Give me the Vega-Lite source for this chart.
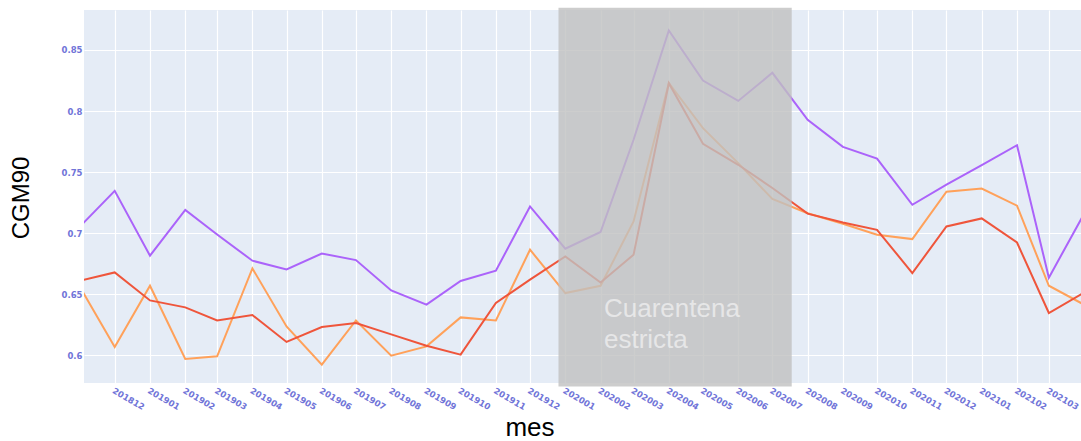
{
  "$schema": "https://vega.github.io/schema/vega-lite/v6.json",
  "autosize": {"type": "none"},
  "padding": {"left": 84, "top": 10, "right": 0, "bottom": 58},
  "width": 997,
  "height": 373,
  "background": "white",
  "config": {"view": {"stroke": null, "fill": "#E5ECF6"}},
  "datasets": {
    "series": [
      {"mes": "201811", "serie": "Serie 1", "valor": 0.706},
      {"mes": "201812", "serie": "Serie 1", "valor": 0.7347},
      {"mes": "201901", "serie": "Serie 1", "valor": 0.6816},
      {"mes": "201902", "serie": "Serie 1", "valor": 0.719},
      {"mes": "201903", "serie": "Serie 1", "valor": 0.699},
      {"mes": "201904", "serie": "Serie 1", "valor": 0.6775},
      {"mes": "201905", "serie": "Serie 1", "valor": 0.6704},
      {"mes": "201906", "serie": "Serie 1", "valor": 0.6834},
      {"mes": "201907", "serie": "Serie 1", "valor": 0.678},
      {"mes": "201908", "serie": "Serie 1", "valor": 0.6532},
      {"mes": "201909", "serie": "Serie 1", "valor": 0.6415},
      {"mes": "201910", "serie": "Serie 1", "valor": 0.6609},
      {"mes": "201911", "serie": "Serie 1", "valor": 0.6693},
      {"mes": "201912", "serie": "Serie 1", "valor": 0.7219},
      {"mes": "202001", "serie": "Serie 1", "valor": 0.6873},
      {"mes": "202002", "serie": "Serie 1", "valor": 0.701},
      {"mes": "202003", "serie": "Serie 1", "valor": 0.7765},
      {"mes": "202004", "serie": "Serie 1", "valor": 0.8659},
      {"mes": "202005", "serie": "Serie 1", "valor": 0.825},
      {"mes": "202006", "serie": "Serie 1", "valor": 0.8083},
      {"mes": "202007", "serie": "Serie 1", "valor": 0.8313},
      {"mes": "202008", "serie": "Serie 1", "valor": 0.7928},
      {"mes": "202009", "serie": "Serie 1", "valor": 0.7707},
      {"mes": "202010", "serie": "Serie 1", "valor": 0.7611},
      {"mes": "202011", "serie": "Serie 1", "valor": 0.7233},
      {"mes": "202012", "serie": "Serie 1", "valor": 0.7397},
      {"mes": "202101", "serie": "Serie 1", "valor": 0.7558},
      {"mes": "202102", "serie": "Serie 1", "valor": 0.772},
      {"mes": "202103", "serie": "Serie 1", "valor": 0.6636},
      {"mes": "202104", "serie": "Serie 1", "valor": 0.716},
      {"mes": "201811", "serie": "Serie 3", "valor": 0.6551},
      {"mes": "201812", "serie": "Serie 3", "valor": 0.6069},
      {"mes": "201901", "serie": "Serie 3", "valor": 0.657},
      {"mes": "201902", "serie": "Serie 3", "valor": 0.597},
      {"mes": "201903", "serie": "Serie 3", "valor": 0.5992},
      {"mes": "201904", "serie": "Serie 3", "valor": 0.6712},
      {"mes": "201905", "serie": "Serie 3", "valor": 0.6237},
      {"mes": "201906", "serie": "Serie 3", "valor": 0.5924},
      {"mes": "201907", "serie": "Serie 3", "valor": 0.6286},
      {"mes": "201908", "serie": "Serie 3", "valor": 0.5998},
      {"mes": "201909", "serie": "Serie 3", "valor": 0.6074},
      {"mes": "201910", "serie": "Serie 3", "valor": 0.6311},
      {"mes": "201911", "serie": "Serie 3", "valor": 0.6286},
      {"mes": "201912", "serie": "Serie 3", "valor": 0.6865},
      {"mes": "202001", "serie": "Serie 3", "valor": 0.651},
      {"mes": "202002", "serie": "Serie 3", "valor": 0.657},
      {"mes": "202003", "serie": "Serie 3", "valor": 0.7096},
      {"mes": "202004", "serie": "Serie 3", "valor": 0.823},
      {"mes": "202005", "serie": "Serie 3", "valor": 0.786},
      {"mes": "202006", "serie": "Serie 3", "valor": 0.7574},
      {"mes": "202007", "serie": "Serie 3", "valor": 0.728},
      {"mes": "202008", "serie": "Serie 3", "valor": 0.7163},
      {"mes": "202009", "serie": "Serie 3", "valor": 0.7077},
      {"mes": "202010", "serie": "Serie 3", "valor": 0.6987},
      {"mes": "202011", "serie": "Serie 3", "valor": 0.6952},
      {"mes": "202012", "serie": "Serie 3", "valor": 0.734},
      {"mes": "202101", "serie": "Serie 3", "valor": 0.7366},
      {"mes": "202102", "serie": "Serie 3", "valor": 0.7225},
      {"mes": "202103", "serie": "Serie 3", "valor": 0.657},
      {"mes": "202104", "serie": "Serie 3", "valor": 0.6415},
      {"mes": "201811", "serie": "Serie 2", "valor": 0.6613},
      {"mes": "201812", "serie": "Serie 2", "valor": 0.6679},
      {"mes": "201901", "serie": "Serie 2", "valor": 0.645},
      {"mes": "201902", "serie": "Serie 2", "valor": 0.6393},
      {"mes": "201903", "serie": "Serie 2", "valor": 0.6286},
      {"mes": "201904", "serie": "Serie 2", "valor": 0.633},
      {"mes": "201905", "serie": "Serie 2", "valor": 0.611},
      {"mes": "201906", "serie": "Serie 2", "valor": 0.6232},
      {"mes": "201907", "serie": "Serie 2", "valor": 0.6265},
      {"mes": "201908", "serie": "Serie 2", "valor": 0.6172},
      {"mes": "201909", "serie": "Serie 2", "valor": 0.6079},
      {"mes": "201910", "serie": "Serie 2", "valor": 0.6006},
      {"mes": "201911", "serie": "Serie 2", "valor": 0.6429},
      {"mes": "201912", "serie": "Serie 2", "valor": 0.662},
      {"mes": "202001", "serie": "Serie 2", "valor": 0.681},
      {"mes": "202002", "serie": "Serie 2", "valor": 0.6597},
      {"mes": "202003", "serie": "Serie 2", "valor": 0.6824},
      {"mes": "202004", "serie": "Serie 2", "valor": 0.8228},
      {"mes": "202005", "serie": "Serie 2", "valor": 0.7732},
      {"mes": "202006", "serie": "Serie 2", "valor": 0.756},
      {"mes": "202007", "serie": "Serie 2", "valor": 0.737},
      {"mes": "202008", "serie": "Serie 2", "valor": 0.716},
      {"mes": "202009", "serie": "Serie 2", "valor": 0.7088},
      {"mes": "202010", "serie": "Serie 2", "valor": 0.7028},
      {"mes": "202011", "serie": "Serie 2", "valor": 0.6674},
      {"mes": "202012", "serie": "Serie 2", "valor": 0.7055},
      {"mes": "202101", "serie": "Serie 2", "valor": 0.7121},
      {"mes": "202102", "serie": "Serie 2", "valor": 0.6924},
      {"mes": "202103", "serie": "Serie 2", "valor": 0.6347},
      {"mes": "202104", "serie": "Serie 2", "valor": 0.6514}
    ]
  },
  "encoding": {
    "x": {
      "field": "mes",
      "type": "temporal",
      "title": "mes",
      "scale": {
        "type": "utc",
        "domain": [
          {"year": 2018, "month": 11, "date": 4, "utc": true},
          {"year": 2021, "month": 3, "date": 29, "hours": 6, "utc": true}
        ],
        "nice": false
      },
      "axis": {
        "format": "%Y%m",
        "tickCount": {"interval": "month", "step": 1},
        "labelAngle": 30,
        "labelAlign": "left",
        "labelBaseline": "top",
        "labelPadding": 3,
        "labelFont": "DejaVu Sans",
        "labelFontSize": 8.5,
        "labelFontWeight": "bold",
        "labelColor": "#7074d8",
        "labelOverlap": false,
        "labelFlush": false,
        "ticks": false,
        "domain": false,
        "grid": true,
        "gridColor": "#ffffff",
        "gridWidth": 1.2,
        "titleFont": "Liberation Sans",
        "titleFontSize": 26,
        "titleFontWeight": "normal",
        "titleColor": "#000000",
        "titleAlign": "center",
        "titleBaseline": "alphabetic",
        "titleX": 445.5,
        "titleY": 52
      }
    },
    "y": {
      "field": "valor",
      "type": "quantitative",
      "title": "CGM90",
      "scale": {"domain": [0.5774, 0.8827], "nice": false, "zero": false},
      "axis": {
        "values": [0.6, 0.65, 0.7, 0.75, 0.8, 0.85],
        "format": "~g",
        "labelFont": "DejaVu Sans",
        "labelFontSize": 8.5,
        "labelFontWeight": "bold",
        "labelColor": "#7074d8",
        "labelPadding": 2,
        "ticks": false,
        "domain": false,
        "grid": true,
        "gridColor": "#ffffff",
        "gridWidth": 1.2,
        "titleFont": "Liberation Sans",
        "titleFontSize": 24,
        "titleFontWeight": "normal",
        "titleColor": "#000000",
        "titleAngle": -90,
        "titleAlign": "center",
        "titleBaseline": "middle",
        "titleX": -62.5,
        "titleY": 187.5
      }
    }
  },
  "layer": [
    {
      "data": {"name": "series", "format": {"parse": {"mes": "utc:'%Y%m'"}}},
      "mark": {"type": "line", "strokeWidth": 2, "clip": true},
      "encoding": {
        "color": {
          "field": "serie",
          "type": "nominal",
          "scale": {"domain": ["Serie 1", "Serie 3", "Serie 2"], "range": ["#AB63FA", "#FFA15A", "#EF553B"]},
          "legend": null
        },
        "order": {"value": 0}
      }
    },
    {
      "data": {
        "values": [{"mes": "2019-12-26", "mes_fin": "2020-07-18", "valor": 0.5745, "valor_fin": 0.8845}],
        "format": {"parse": {"mes": "utc:'%Y-%m-%d'", "mes_fin": "utc:'%Y-%m-%d'"}}
      },
      "mark": {"type": "rect", "color": "#c0c0c0", "opacity": 0.8, "clip": false},
      "encoding": {
        "x2": {"field": "mes_fin"},
        "y2": {"field": "valor_fin"}
      }
    },
    {
      "data": {
        "values": [{"mes": "2020-02-04", "valor": 0.6314, "texto": "Cuarentena\nestricta"}],
        "format": {"parse": {"mes": "utc:'%Y-%m-%d'"}}
      },
      "mark": {
        "type": "text",
        "align": "left",
        "baseline": "alphabetic",
        "font": "Liberation Sans",
        "fontSize": 26,
        "lineHeight": 31,
        "lineBreak": "\n",
        "color": "#ffffff",
        "opacity": 0.55
      },
      "encoding": {"text": {"field": "texto"}}
    }
  ]
}
